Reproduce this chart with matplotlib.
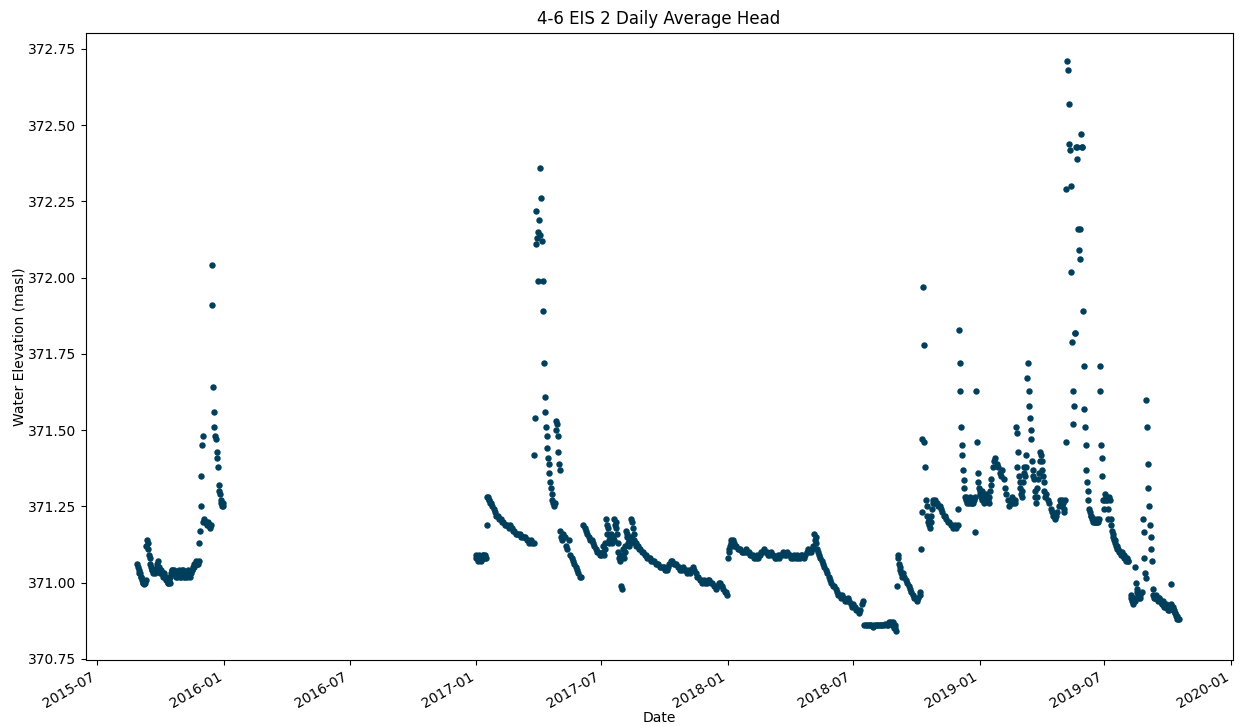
import pandas as pd
import matplotlib.pyplot as plt
import matplotlib.dates as mdates
from matplotlib.ticker import MultipleLocator, FormatStrFormatter

# Tagesmittel der Druckhoehe, abschnittsweise: Startdatum, Schrittweite (Tage), Werte
seg_2015 = [371.06, 371.05, 371.04, 371.03, 371.03, 371.02, 371.02, 371.01, 371.00, 371.00, 370.995, 371.00, 371.01,
            371.12, 371.14, 371.13, 371.11, 371.09, 371.08, 371.06,
            371.05, 371.04, 371.04, 371.03, 371.04, 371.04, 371.03, 371.04, 371.05, 371.06,
            371.07, 371.05, 371.04, 371.03, 371.03, 371.04, 371.03, 371.03, 371.02, 371.03,
            371.02, 371.02, 371.01, 371.01, 371.00, 371.00, 371.01, 371.00, 371.02, 371.03,
            371.04, 371.04, 371.03, 371.03, 371.04, 371.03, 371.02, 371.02, 371.03, 371.03,
            371.04, 371.03, 371.02, 371.02, 371.03, 371.04, 371.04, 371.03, 371.02, 371.02,
            371.03, 371.03, 371.02, 371.03, 371.04, 371.03, 371.02, 371.03, 371.03, 371.04,
            371.04, 371.05, 371.05, 371.06, 371.06, 371.07, 371.06, 371.06, 371.06, 371.07,
            371.13, 371.17, 371.25, 371.35, 371.45, 371.48,
            371.20, 371.21, 371.20, 371.20, 371.20, 371.19, 371.19, 371.20, 371.19, 371.19, 371.18, 371.19,
            372.04, 371.91, 371.64, 371.56, 371.51, 371.48, 371.47, 371.43, 371.41, 371.38, 371.32, 371.30,
            371.29, 371.27, 371.26, 371.25, 371.26, 371.25]

seg_2017a = [371.09, 371.08, 371.08, 371.07, 371.08, 371.09, 371.08, 371.08, 371.07, 371.08, 371.09, 371.09,
             371.08, 371.08, 371.09, 371.08]
seg_2017b = [371.19, 371.28, 371.28, 371.27, 371.27, 371.26, 371.26]
seg_2017c = [371.25, 371.24, 371.23, 371.22, 371.22, 371.21, 371.21, 371.20, 371.20, 371.19, 371.19, 371.19,
             371.18, 371.19, 371.18, 371.17, 371.17, 371.16, 371.16, 371.16, 371.16, 371.15, 371.15, 371.15,
             371.15, 371.14, 371.14, 371.13, 371.14, 371.13, 371.13]
seg_2017d = [371.42, 371.54, 372.11, 372.22, 372.13, 372.15, 371.99, 372.19, 372.14, 372.36, 372.26, 372.12,
             371.99, 371.89, 371.72, 371.61, 371.56, 371.51, 371.48, 371.44, 371.41, 371.39, 371.36, 371.33,
             371.31, 371.29, 371.27, 371.26, 371.26, 371.25, 371.26, 371.53, 371.50, 371.52, 371.48, 371.43,
             371.39, 371.37, 371.17, 371.15, 371.14]
seg_2017e = [371.16, 371.15, 371.12, 371.11, 371.14, 371.09, 371.08, 371.07, 371.06, 371.05, 371.04, 371.03,
             371.02, 371.02]
seg_2017f = [371.19, 371.18, 371.17, 371.16, 371.15, 371.14, 371.14, 371.13, 371.12, 371.11, 371.10, 371.10,
             371.09, 371.09]
seg_2017g = [371.12, 371.10, 371.09, 371.11, 371.13, 371.21, 371.19, 371.16, 371.18, 371.14, 371.13, 371.15,
             371.14, 371.16, 371.13, 371.15, 371.14, 371.21, 371.19, 371.20, 371.18, 371.16, 371.13, 371.10,
             371.08, 371.09, 371.07, 370.99, 370.98, 371.09, 371.11, 371.08, 371.10, 371.12, 371.17, 371.15,
             371.16, 371.13, 371.14, 371.12, 371.13, 371.15, 371.21, 371.20, 371.18, 371.16, 371.14, 371.13,
             371.13, 371.12]
seg_2017h = [371.12, 371.11, 371.11, 371.10, 371.10, 371.09, 371.09, 371.08, 371.08, 371.08, 371.07, 371.07,
             371.07, 371.06, 371.06, 371.06, 371.05, 371.05, 371.05,
             371.05, 371.04, 371.04, 371.05, 371.06, 371.07, 371.07, 371.06, 371.06, 371.06,
             371.05, 371.05, 371.04, 371.04, 371.05, 371.04, 371.04, 371.03, 371.04, 371.03,
             371.04, 371.05, 371.04, 371.03, 371.02, 371.02, 371.01, 371.01, 371.00, 371.01,
             371.00, 371.00, 371.01, 371.01, 371.00, 371.00, 370.99, 370.99, 370.98, 370.99,
             371.00, 371.00, 370.99, 370.98, 370.97, 370.97, 370.96]

seg_2018a = [371.08, 371.10, 371.11, 371.12, 371.13, 371.14, 371.13, 371.14, 371.13, 371.12]
seg_2018b = [371.12, 371.12, 371.11, 371.11, 371.11, 371.10, 371.10, 371.10, 371.11, 371.10, 371.10, 371.09, 371.09,
             371.09, 371.08, 371.08, 371.09, 371.08, 371.09, 371.10,
             371.10, 371.11, 371.10, 371.10, 371.09, 371.09, 371.10,
             371.09, 371.09, 371.08, 371.08, 371.09, 371.08, 371.09, 371.09,
             371.10, 371.09, 371.09, 371.10, 371.09, 371.09, 371.08,
             371.08, 371.09, 371.08, 371.09, 371.08, 371.08, 371.09, 371.09, 371.08,
             371.09, 371.10, 371.11, 371.10, 371.10, 371.11, 371.12]
seg_2018c = [371.16, 371.14, 371.15, 371.13, 371.11, 371.10]
seg_2018d = [371.09, 371.08, 371.07, 371.06, 371.05, 371.04, 371.03, 371.02, 371.01, 371.00,
             370.99, 370.99, 370.98, 370.97, 370.96, 370.96, 370.95, 370.96, 370.95, 370.94,
             370.94, 370.95, 370.94, 370.93, 370.92, 370.93, 370.92, 370.91, 370.91, 370.90,
             370.91, 370.93, 370.94]
seg_2018e = [370.86, 370.86, 370.86, 370.86, 370.86, 370.86, 370.855, 370.86, 370.86, 370.86, 370.86,
             370.86, 370.86, 370.86, 370.86, 370.865, 370.86, 370.86, 370.87, 370.87, 370.86]
seg_2018f = [370.87, 370.86, 370.85, 370.86, 370.85, 370.84,
             370.99, 371.09, 371.08, 371.06, 371.05, 371.04, 371.03, 371.02]
seg_2018g = [371.03, 371.02, 371.01, 371.00, 370.99, 370.98, 370.97, 370.96, 370.95, 370.95, 370.94, 370.95, 370.96]
seg_2018h = [370.97, 371.11, 371.23, 371.47, 371.97, 371.78, 371.46, 371.38, 371.27, 371.25, 371.22, 371.20,
             371.19, 371.21, 371.18, 371.20, 371.22, 371.24, 371.26, 371.27, 371.26, 371.27, 371.26]
seg_2018i = [371.26, 371.25, 371.25, 371.24, 371.23, 371.22, 371.22, 371.21, 371.20, 371.20, 371.19, 371.19,
             371.18, 371.19, 371.18, 371.19]
seg_2018j = [371.24, 371.83, 371.72, 371.63, 371.51, 371.45, 371.42, 371.37, 371.335, 371.31,
             371.28, 371.27, 371.28, 371.26, 371.27, 371.26, 371.27, 371.28, 371.26, 371.27, 371.26, 371.27,
             371.26, 371.27, 371.28,
             371.165, 371.63, 371.46,
             371.36, 371.33, 371.31, 371.30, 371.29, 371.28, 371.30, 371.27, 371.28, 371.26, 371.27, 371.28,
             371.27, 371.29, 371.28, 371.27, 371.26, 371.28, 371.30, 371.32, 371.34]

seg_2019a = [371.38, 371.40, 371.41, 371.39, 371.38, 371.36, 371.35, 371.37, 371.34]
seg_2019b = [371.31, 371.29, 371.27, 371.25, 371.26, 371.28, 371.26, 371.27]
seg_2019c = [371.26, 371.51, 371.49, 371.38, 371.43, 371.35, 371.33, 371.31, 371.29, 371.28, 371.30, 371.33,
             371.36, 371.38, 371.35, 371.42, 371.38,
             371.67, 371.72, 371.63, 371.58, 371.54, 371.50, 371.47, 371.40, 371.37, 371.35, 371.34, 371.30,
             371.28, 371.26, 371.28, 371.31,
             371.34, 371.36, 371.40, 371.43, 371.42, 371.40, 371.37, 371.35, 371.33, 371.30, 371.28]
seg_2019d = [371.29, 371.27, 371.26, 371.24, 371.23, 371.22, 371.21, 371.22, 371.23, 371.25]
seg_2019e = [371.27, 371.26, 371.25, 371.27, 371.26, 371.24, 371.23, 371.27, 371.46,
             372.29, 372.71, 372.68, 372.57, 372.44, 372.42, 372.30, 372.02, 371.79, 371.63, 371.52, 371.58,
             371.82, 371.82, 372.43, 372.39, 372.43, 372.16, 372.09, 372.06, 372.16, 372.47, 372.43, 372.43,
             371.89, 371.71, 371.57, 371.51, 371.45, 371.37, 371.33, 371.30, 371.27,
             371.24, 371.23, 371.22, 371.22, 371.21, 371.21, 371.20, 371.21, 371.20, 371.20, 371.20, 371.21,
             371.20, 371.20, 371.21,
             371.71, 371.63, 371.45, 371.41, 371.35, 371.27, 371.24, 371.27, 371.29, 371.27, 371.28, 371.27,
             371.24, 371.21,
             371.28, 371.27, 371.21, 371.19, 371.17, 371.16, 371.15, 371.14, 371.14, 371.13, 371.12, 371.12,
             371.11, 371.11, 371.10, 371.10, 371.10, 371.09, 371.09, 371.10, 371.09, 371.08, 371.09, 371.08,
             371.08, 371.07, 371.08, 371.07, 371.07]
seg_2019f = [370.96, 370.95, 370.94, 370.93, 370.94, 370.95, 370.94, 371.05, 371.00, 370.98, 370.97, 370.96,
             370.95, 370.96, 370.95]
seg_2019g = [370.97, 371.21, 371.165, 371.08, 371.03, 371.015, 371.60, 371.51, 371.39, 371.31, 371.25, 371.19,
             371.15, 371.11, 371.07, 370.98,
             370.96, 370.95, 370.95, 370.95, 370.96, 370.95, 370.95, 370.94, 370.95, 370.95, 370.94, 370.94,
             370.93, 370.93, 370.94, 370.93, 370.92, 370.92, 370.93, 370.92, 370.92, 370.91, 370.92, 370.91,
             370.92, 370.995, 370.93, 370.92, 370.92, 370.91, 370.91, 370.90, 370.90, 370.89, 370.89, 370.88,
             370.88, 370.88]

abschnitte = [
    ('2015-08-28', 1, seg_2015),
    ('2016-12-31', 1, seg_2017a),
    ('2017-01-16', 1, seg_2017b),
    ('2017-01-24', 2, seg_2017c),
    ('2017-03-26', 1, seg_2017d),
    ('2017-05-07', 2, seg_2017e),
    ('2017-06-05', 2, seg_2017f),
    ('2017-07-03', 1, seg_2017g),
    ('2017-08-23', 2, seg_2017h),
    ('2018-01-01', 1, seg_2018a),
    ('2018-01-11', 2, seg_2018b),
    ('2018-05-06', 1, seg_2018c),
    ('2018-05-13', 2, seg_2018d),
    ('2018-07-18', 2, seg_2018e),
    ('2018-08-28', 1, seg_2018f),
    ('2018-09-12', 2, seg_2018g),
    ('2018-10-07', 1, seg_2018h),
    ('2018-10-31', 2, seg_2018i),
    ('2018-12-01', 1, seg_2018j),
    ('2019-01-20', 2, seg_2019a),
    ('2019-02-07', 2, seg_2019b),
    ('2019-02-22', 1, seg_2019c),
    ('2019-04-08', 2, seg_2019d),
    ('2019-04-28', 1, seg_2019e),
    ('2019-08-08', 1, seg_2019f),
    ('2019-08-25', 1, seg_2019g),
]

teile = []
for start, schritt, werte in abschnitte:
    datum = pd.date_range(start, periods=len(werte), freq=f'{schritt}D')
    teile.append(pd.DataFrame({'Datum': datum, 'Head': werte}))
df = pd.concat(teile, ignore_index=True)

fig, ax = plt.subplots(figsize=(12.4, 7.26), dpi=100)
ax.scatter(df['Datum'], df['Head'], s=13, color='#003f5c')

ax.set_title('4-6 EIS 2 Daily Average Head')
ax.set_xlabel('Date', labelpad=0)
ax.set_ylabel('Water Elevation (masl)', labelpad=1)

ax.xaxis.set_major_locator(mdates.MonthLocator(bymonth=[1, 7]))
ax.xaxis.set_major_formatter(mdates.DateFormatter('%Y-%m'))
ax.set_xlim(pd.Timestamp('2015-06-14'), pd.Timestamp('2020-01-03'))
ax.yaxis.set_major_locator(MultipleLocator(0.25))
ax.yaxis.set_major_formatter(FormatStrFormatter('%.2f'))

fig.autofmt_xdate()
fig.subplots_adjust(left=0.069, right=0.994, top=0.955, bottom=0.091)

plt.savefig('out.png')
